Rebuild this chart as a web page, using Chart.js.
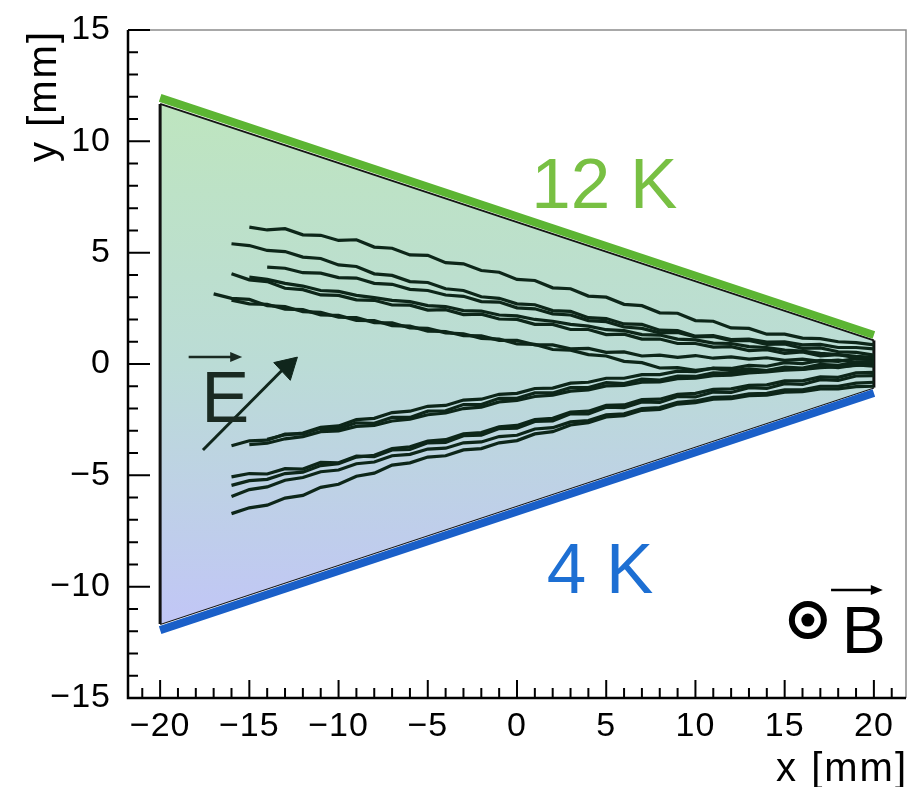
<!DOCTYPE html>
<html><head><meta charset="utf-8">
<script src="https://cdn.jsdelivr.net/npm/chart.js@4.4.1/dist/chart.umd.min.js"></script>
<style>html,body{margin:0;padding:0;background:#fff;}</style>
</head><body>
<canvas id="c" width="921" height="787"></canvas>
<script>
// ---- axis setup (mm) ----
const xTicks = [-20, -15, -10, -5, 0, 5, 10, 15, 20];
const yTicks = [-15, -10, -5, 0, 5, 10, 15];
const xRange = [-21.8, 21.8];
const yRange = [-15, 15];

// ---- detector region (mm) ----
const fillTop = [[-20, 11.68], [20, 1.06]];
const fillBottom = [[-20, -11.68], [20, -1.06]];
const leftEdge = [[-20, -11.68], [-20, 11.68]];
const rightEdge = [[20, -1.06], [20, 1.06]];
const greenLine = [[-20, 11.95], [20, 1.3]];   // 12 K side
const blueLine = [[-20, -11.95], [20, -1.3]];  // 4 K side

// ---- electron tracks: start x (mm), then y (mm) every 1 mm ----
const trackStart = [-15, -16, -14, -16, -17, -16, -15, -16, -14, -16, -16, -16, -16, -15];
const trackU1 = [6.15,6.02,6.08,5.80,5.78,5.55,5.58,5.25,5.20,4.90,4.88,4.55,4.50,4.20,4.12,3.80,3.75,3.42,3.38,3.05,3.00,2.68,2.62,2.30,2.28,1.95,1.92,1.62,1.60,1.34,1.34,1.16,1.14,1.00,0.96,0.86];
const trackU2 = [5.40,5.32,5.10,5.05,4.80,4.74,4.45,4.38,4.05,3.98,3.70,3.66,3.38,3.30,3.02,2.95,2.70,2.66,2.40,2.36,2.08,2.04,1.80,1.78,1.52,1.50,1.25,1.28,1.10,1.12,0.98,1.00,0.86,0.88,0.74,0.74,0.68];
const trackU3 = [4.35,4.30,4.10,4.08,3.88,3.86,3.62,3.58,3.35,3.30,3.10,3.04,2.80,2.78,2.52,2.48,2.25,2.20,1.95,1.90,1.66,1.60,1.40,1.42,1.22,1.24,1.05,1.06,0.88,0.90,0.70,0.72,0.55,0.52,0.40];
const trackU4 = [4.05,3.78,3.70,3.40,3.34,3.10,3.08,2.88,2.86,2.65,2.64,2.42,2.44,2.22,2.24,2.02,2.00,1.78,1.78,1.55,1.55,1.32,1.34,1.12,1.12,0.92,0.92,0.76,0.78,0.60,0.64,0.48,0.54,0.36,0.42,0.28,0.30];
const trackU5 = [3.15,2.95,2.90,2.62,2.58,2.35,2.32,2.10,2.08,1.86,1.85,1.62,1.60,1.40,1.36,1.15,1.12,0.90,0.88,0.65,0.62,0.42,0.36,0.12,0.06,-0.18,-0.16,-0.28,-0.20,-0.30,-0.22,-0.30,-0.18,-0.24,-0.10,-0.16,-0.04,-0.10];
const trackU6 = [2.87,2.70,2.68,2.46,2.44,2.20,2.18,1.96,1.95,1.72,1.70,1.48,1.46,1.27,1.26,1.06,1.06,0.86,0.86,0.68,0.70,0.52,0.54,0.36,0.40,0.30,0.38,0.26,0.32,0.22,0.28,0.16,0.22,0.12,0.18,0.08,0.12];
const trackU7 = [3.90,3.80,3.62,3.50,3.30,3.26,3.08,2.98,2.86,2.80,2.62,2.58,2.40,2.38,2.20,2.16,2.00,1.92,1.78,1.70,1.54,1.50,1.32,1.30,1.12,1.08,0.94,0.92,0.78,0.74,0.62,0.58,0.48,0.42,0.34,0.30];
const trackL1 = [-3.67,-3.45,-3.42,-3.15,-3.14,-2.88,-2.90,-2.64,-2.66,-2.40,-2.40,-2.12,-2.10,-1.82,-1.82,-1.54,-1.54,-1.30,-1.30,-1.06,-1.06,-0.84,-0.88,-0.68,-0.72,-0.54,-0.56,-0.40,-0.42,-0.28,-0.30,-0.14,-0.18,-0.02,-0.06,0.08,0.06];
const trackL2 = [-3.38,-3.18,-3.10,-2.84,-2.78,-2.50,-2.44,-2.18,-2.12,-1.90,-1.86,-1.62,-1.58,-1.36,-1.32,-1.10,-1.08,-0.86,-0.82,-0.64,-0.64,-0.48,-0.48,-0.32,-0.34,-0.18,-0.20,-0.06,-0.10,0.06,0.02,0.16,0.12,0.24,0.20];
const trackL3 = [-5.07,-4.92,-4.94,-4.70,-4.72,-4.42,-4.44,-4.14,-4.16,-3.86,-3.84,-3.54,-3.52,-3.22,-3.20,-2.90,-2.88,-2.58,-2.56,-2.24,-2.24,-1.94,-1.96,-1.70,-1.72,-1.46,-1.48,-1.26,-1.28,-1.06,-1.10,-0.88,-0.92,-0.70,-0.74,-0.54,-0.52];
const trackL4 = [-5.95,-5.64,-5.52,-5.22,-5.10,-4.84,-4.76,-4.48,-4.40,-4.12,-4.06,-3.82,-3.78,-3.54,-3.50,-3.26,-3.20,-2.92,-2.86,-2.60,-2.54,-2.28,-2.24,-2.00,-1.96,-1.72,-1.66,-1.50,-1.48,-1.34,-1.32,-1.16,-1.16,-1.00,-1.00,-0.86,-0.82];
const trackL5 = [-6.72,-6.46,-6.34,-6.02,-5.90,-5.54,-5.40,-5.04,-4.90,-4.54,-4.44,-4.18,-4.12,-3.86,-3.80,-3.54,-3.44,-3.14,-3.04,-2.74,-2.64,-2.38,-2.32,-2.08,-2.04,-1.80,-1.74,-1.58,-1.56,-1.42,-1.40,-1.26,-1.24,-1.12,-1.12,-1.02,-1.00];
const trackL6 = [-5.45,-5.24,-5.18,-4.92,-4.86,-4.56,-4.48,-4.18,-4.10,-3.80,-3.72,-3.46,-3.40,-3.14,-3.08,-2.82,-2.76,-2.50,-2.44,-2.16,-2.12,-1.86,-1.84,-1.60,-1.58,-1.36,-1.32,-1.14,-1.12,-0.96,-0.94,-0.76,-0.76,-0.58,-0.60,-0.40,-0.38];
const trackL7 = [-3.62,-3.56,-3.36,-3.26,-3.04,-3.00,-2.80,-2.76,-2.56,-2.48,-2.28,-2.20,-2.00,-1.94,-1.70,-1.64,-1.46,-1.40,-1.22,-1.16,-0.98,-0.96,-0.82,-0.80,-0.66,-0.64,-0.52,-0.50,-0.40,-0.36,-0.28,-0.24,-0.16,-0.12,-0.06,-0.02];
const tracks = [trackU1, trackU2, trackU3, trackU4, trackU5, trackU6, trackU7, trackL1, trackL2, trackL3, trackL4, trackL5, trackL6, trackL7];

// ---- annotations (mm) ----
const eFieldShaft = [[-17.6, -3.86], [-13.15, -0.27]];
const eFieldHead = [[-12.88, -0.12]];
const eLabelPos = [-17.7, -2.6];
const eVecArrow = [[-18.4, 0.31], [-15.4, 0.31]];
const bLabelPos = [18.2, -13.0];
const bVecArrow = [[17.6, -10.15], [20.5, -10.15]];
const bDotPos = [16.3, -11.5];
const label12K = [0.8, 7.0];
const label4K = [1.67, -10.28];

const FONT = '"Liberation Sans", Arial, Helvetica, sans-serif';
const pts = arr => arr.map(p => ({x: p[0], y: p[1]}));
const fmt = v => (v < 0 ? '\u2212' + Math.abs(v) : String(v));

const gradientFill = (c) => {
  const ch = c.chart;
  if (!ch.chartArea) return 'rgba(0,0,0,0)';
  const ys = ch.scales.y;
  const g = ch.ctx.createLinearGradient(0, ys.getPixelForValue(11.6), 0, ys.getPixelForValue(-11.6));
  g.addColorStop(0, '#bee5bf');
  g.addColorStop(0.5, '#bbdcd6');
  g.addColorStop(1, '#c1c6f6');
  return g;
};

const datasets = [
  {data: pts(fillTop), showLine: true, borderColor: '#151515', borderWidth: 2, pointRadius: 0, fill: '+1', backgroundColor: gradientFill, order: 6},
  {data: pts(fillBottom), showLine: true, borderColor: '#151515', borderWidth: 2, pointRadius: 0, fill: false, order: 6},
  {data: pts(leftEdge), showLine: true, borderColor: '#111', borderWidth: 3, pointRadius: 0, fill: false, order: 5},
  {data: pts(rightEdge), showLine: true, borderColor: '#111', borderWidth: 3, pointRadius: 0, fill: false, order: 5}
];
tracks.forEach((ys, k) => {
  datasets.push({
    data: ys.map((v, i) => ({x: trackStart[k] + i, y: v})),
    showLine: true, borderColor: '#0d2619', borderWidth: 3.2, pointRadius: 0, fill: false, order: 3
  });
});
datasets.push(
  {data: pts(eFieldShaft), showLine: true, borderColor: '#10261c', borderWidth: 3, pointRadius: 0, fill: false, order: 2},
  {data: pts(eFieldHead), showLine: false, pointStyle: 'triangle', pointRadius: 14, rotation: 47, backgroundColor: '#10261c', borderColor: '#10261c', borderWidth: 1, order: 2},
  {data: pts(greenLine), showLine: true, borderColor: '#5cb533', borderWidth: 8, borderCapStyle: 'butt', pointRadius: 0, fill: false, order: 0},
  {data: pts(blueLine), showLine: true, borderColor: '#1a5fc8', borderWidth: 8, borderCapStyle: 'butt', pointRadius: 0, fill: false, order: 0}
);

function arrowH(ctx, x0, x1, y) {
  ctx.beginPath(); ctx.moveTo(x0, y); ctx.lineTo(x1 - 8, y); ctx.stroke();
  ctx.beginPath(); ctx.moveTo(x1, y); ctx.lineTo(x1 - 12, y - 5); ctx.lineTo(x1 - 12, y + 5); ctx.closePath(); ctx.fill();
}

const framePlugin = {
  id: 'frame',
  beforeDraw(chart) { chart.ctx.letterSpacing = '1px'; },
  afterDatasetsDraw(chart) {
    const {ctx, chartArea: a, scales: {x, y}} = chart;
    const X = v => x.getPixelForValue(v), Y = v => y.getPixelForValue(v);
    ctx.save();
    ctx.letterSpacing = '0px';
    // top/right frame
    ctx.strokeStyle = '#8c8c8c'; ctx.lineWidth = 1.5;
    ctx.beginPath(); ctx.moveTo(a.left, a.top); ctx.lineTo(a.right, a.top); ctx.lineTo(a.right, a.bottom); ctx.stroke();
    // axes
    ctx.strokeStyle = '#000'; ctx.lineWidth = 2.5;
    ctx.beginPath(); ctx.moveTo(a.left, a.top); ctx.lineTo(a.left, a.bottom); ctx.lineTo(a.right, a.bottom); ctx.stroke();
    // inward ticks
    ctx.lineWidth = 2;
    ctx.beginPath();
    for (let v = -21; v <= 21; v++) {
      const px = X(v), L = v % 5 === 0 ? 18 : 10;
      ctx.moveTo(px, a.bottom); ctx.lineTo(px, a.bottom - L);
    }
    for (let v = -15; v <= 15; v++) {
      const py = Y(v), L = v % 5 === 0 ? 22 : 10;
      ctx.moveTo(a.left, py); ctx.lineTo(a.left + L, py);
    }
    ctx.stroke();

    // temperature labels
    ctx.font = '71px ' + FONT; ctx.textAlign = 'left'; ctx.textBaseline = 'alphabetic';
    ctx.fillStyle = '#78c043'; ctx.fillText('12 K', X(label12K[0]), Y(label12K[1]));
    ctx.fillStyle = '#1d6fd3'; ctx.fillText('4 K', X(label4K[0]), Y(label4K[1]));

    // E vector label
    ctx.fillStyle = '#1a2a22'; ctx.strokeStyle = '#1a2a22';
    ctx.font = '72px ' + FONT;
    ctx.fillText('E', X(eLabelPos[0]), Y(eLabelPos[1]));
    ctx.lineWidth = 2.5;
    arrowH(ctx, X(eVecArrow[0][0]), X(eVecArrow[1][0]), Y(eVecArrow[0][1]));

    // B vector label
    ctx.fillStyle = '#000'; ctx.strokeStyle = '#000';
    ctx.font = '66px ' + FONT;
    ctx.fillText('B', X(bLabelPos[0]), Y(bLabelPos[1]));
    arrowH(ctx, X(bVecArrow[0][0]), X(bVecArrow[1][0]), Y(bVecArrow[0][1]));
    // circle-dot (B out of page)
    ctx.lineWidth = 6;
    ctx.beginPath(); ctx.arc(X(bDotPos[0]), Y(bDotPos[1]), 16, 0, Math.PI * 2); ctx.stroke();
    ctx.beginPath(); ctx.arc(X(bDotPos[0]), Y(bDotPos[1]), 6.5, 0, Math.PI * 2); ctx.fill();

    // axis titles
    ctx.fillStyle = '#000';
    ctx.font = '40px ' + FONT;
    ctx.letterSpacing = '2px';
    ctx.textAlign = 'right'; ctx.textBaseline = 'alphabetic';
    ctx.fillText('x [mm]', a.right + 2, 781);
    ctx.translate(56, 30); ctx.rotate(-Math.PI / 2);
    ctx.fillText('y [mm]', 0, 0);
    ctx.restore();
  }
};

new Chart(document.getElementById('c'), {
  type: 'scatter',
  data: {datasets},
  options: {
    responsive: false,
    animation: false,
    layout: {padding: {left: 0, top: 30, right: 9, bottom: 0}},
    plugins: {legend: {display: false}, tooltip: {enabled: false}},
    scales: {
      x: {
        type: 'linear', min: xRange[0], max: xRange[1],
        afterBuildTicks: s => { s.ticks = xTicks.map(v => ({value: v})); },
        afterFit: s => { s.height = 89; },
        grid: {display: false}, border: {display: false},
        ticks: {padding: 0, color: '#000', font: {size: 34, family: FONT}, callback: v => fmt(v), maxRotation: 0, autoSkip: false}
      },
      y: {
        type: 'linear', min: yRange[0], max: yRange[1],
        afterBuildTicks: s => { s.ticks = yTicks.map(v => ({value: v})); },
        afterFit: s => { s.width = 128; },
        grid: {display: false}, border: {display: false},
        ticks: {padding: 9, color: '#000', font: {size: 34, family: FONT}, callback: v => fmt(v), autoSkip: false}
      }
    }
  },
  plugins: [framePlugin]
});
</script>
</body></html>
